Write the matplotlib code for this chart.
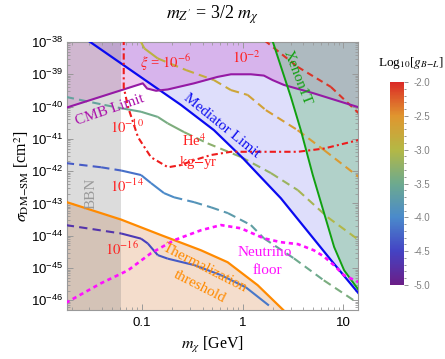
import numpy as np
import matplotlib.pyplot as plt
from matplotlib.collections import LineCollection
from matplotlib.colors import LinearSegmentedColormap, Normalize
from matplotlib.cm import ScalarMappable
from matplotlib import ticker

plt.rcParams['font.family'] = ['Liberation Sans', 'DejaVu Sans']
plt.rcParams['mathtext.fontset'] = 'stix'

# axis ranges (mass in GeV, cross section as log10 of sigma/cm^2)
xmin, xmax = 0.018, 14.0
ymin, ymax = -46.3, -38.0
bbn_m = 0.062
xticks = [0.1, 1, 10]
xticklabels = ['0.1', '1', '10']

# mediator limit
med_m = [0.0290, 0.2443, 0.5188, 1.007, 1.521, 2.399, 7.568, 14.5]
med_s = [-37.95, -39.95, -40.73, -41.60, -42.19, -42.84, -44.76, -45.82]

# CMB limit
cmb_m = [0.0175, 0.1019, 0.1125, 0.1380, 0.1803, 0.3289, 0.5649, 0.7656,
         1.208, 1.626, 1.986, 2.570, 5.093, 9.441, 14.5]
cmb_s = [-40.04, -39.28, -39.44, -39.51, -39.47, -39.28, -39.08, -39.00,
         -39.00, -39.04, -39.18, -39.33, -39.59, -39.85, -40.03]

# Xenon1T
xen_m = [1.95, 3.013, 3.784, 4.977, 6.457, 8.110, 10.19, 14.5]
xen_s = [-37.90, -39.70, -40.73, -42.12, -43.31, -44.35, -45.07, -45.72]

# thermalization threshold
th_m = [0.0175, 0.0621, 0.1545, 0.3855, 0.7096, 1.409, 2.95]
th_s = [-42.95, -43.50, -43.98, -44.45, -44.82, -45.53, -46.50]

# neutrino floor
nu_m = [0.0175, 0.0393, 0.0728, 0.1230, 0.2080, 0.3855, 0.6095, 0.9616,
        1.626, 2.399, 3.540, 5.093, 6.397, 8.054, 10.12, 14.5]
nu_s = [-46.08, -45.47, -45.07, -44.54, -44.14, -43.83, -43.67, -43.77,
        -44.08, -44.20, -44.26, -44.45, -44.64, -44.91, -45.22, -45.45]

# He4 kg-yr
he_m = [0.0659, 0.0659, 0.0728, 0.0914, 0.1230, 0.1816, 0.2443, 0.3289,
        0.4853, 0.7656, 3.540, 6.412, 14.5]
he_s = [-37.90, -39.40, -40.02, -40.95, -41.57, -41.88, -41.81, -41.66,
        -41.50, -41.40, -41.40, -41.30, -41.03]

# xi contours: mass, log10 sigma, log10 g
xi16_m = [0.0175, 0.0621, 0.0979, 0.1143, 0.1435, 0.1803, 0.3311, 0.6095, 1.079, 1.824]
xi16_s = [-43.67, -43.93, -44.09, -44.24, -44.60, -44.71, -44.91, -45.22, -45.60, -46.16]
xi16_g = [-4.75, -4.65, -4.6, -4.5, -4.4, -4.35, -4.3, -4.2, -4.15, -4.1]

xi14_m = [0.0175, 0.0393, 0.0621, 0.0979, 0.1230, 0.1656, 0.2084, 0.3289,
          0.4853, 0.7145, 1.208, 1.626, 3.228, 6.397, 12.71]
xi14_s = [-41.75, -41.88, -41.98, -42.12, -42.37, -42.68, -42.81, -42.96,
          -43.12, -43.30, -43.67, -44.08, -44.70, -45.38, -46.00]
xi14_g = [-4.35, -4.3, -4.25, -4.1, -4.05, -4.0, -3.95, -3.85,
          -3.8, -3.75, -3.7, -3.65, -3.55, -3.45, -3.35]

xi10_m = [0.0175, 0.0424, 0.0621, 0.0979, 0.1435, 0.1803, 0.2618, 0.4498,
          0.9616, 1.910, 3.540, 7.015, 14.5]
xi10_s = [-39.70, -39.95, -40.05, -40.16, -40.32, -40.52, -40.79, -41.14,
          -41.56, -42.06, -42.59, -43.43, -44.15]
xi10_g = [-3.65, -3.6, -3.55, -3.5, -3.45, -3.4, -3.35, -3.3,
          -3.25, -3.2, -3.15, -3.05, -3.0]

xi6_m = [0.0960, 0.1057, 0.1435, 0.2742, 0.5188, 0.7656, 1.122, 1.702, 3.516, 6.457, 14.5]
xi6_s = [-37.95, -38.20, -38.51, -38.87, -39.18, -39.49, -39.64, -40.11, -40.73, -41.35, -42.20]
xi6_g = [-2.95, -2.93, -2.9, -2.85, -2.8, -2.75, -2.7, -2.65, -2.6, -2.57, -2.55]

xi2_m = [1.65, 3.516, 7.516, 14.5]
xi2_s = [-37.95, -38.77, -39.39, -40.23]
xi2_g = [-2.05, -2.05, -2.05, -2.05]

rainbow = LinearSegmentedColormap.from_list(
    'rb', ['#6B1E87', '#4443C4', '#4A8ACB', '#6DAA8E', '#B4B845', '#E0962F', '#DB2A26'])
norm = Normalize(-5, -2)

fig = plt.figure(figsize=(4.45, 3.59), dpi=100)
ax = fig.add_axes([67/445, 49/359, 291/445, 268/359])
ax.set_xscale('log')
ax.set_yscale('log')

def p(v):
    return 10**np.asarray(v)

# shaded regions
ax.fill_between(med_m, p(med_s), 1e-36, color=(100/255, 100/255, 240/255), alpha=0.21, lw=0, zorder=0.5)
ax.fill_between(th_m, 1e-48, p(th_s), color=(215/255, 123/255, 55/255), alpha=0.25, lw=0, zorder=0.6)
ax.fill_between(cmb_m, p(cmb_s), 1e-36, color=(200/255, 80/255, 200/255), alpha=0.29, lw=0, zorder=0.7)
ax.fill_betweenx(p(xen_s), xen_m, 100, color=(124/255, 195/255, 140/255), alpha=0.45, lw=0, zorder=0.8)
ax.axvspan(0.005, bbn_m, color='#808080', alpha=0.27, lw=0, zorder=0.9)

# limit lines
ax.plot(med_m, p(med_s), color='#0A0AF0', lw=1.6, zorder=5)
ax.plot(cmb_m, p(cmb_s), color='#951AA5', lw=1.5, zorder=5)
ax.plot(xen_m, p(xen_s), color='#10A010', lw=1.4, zorder=5)
ax.plot(th_m, p(th_s), color='#FF8A00', lw=1.6, zorder=5)
ax.plot(nu_m, p(nu_s), color='#FF10FF', lw=1.9, ls=(0, (1.6, 1.4)), zorder=6)
ax.plot(he_m, p(he_s), color='#EE1C1C', lw=1.5, ls=(0, (3, 1.5, 1, 1.5)), zorder=6)


def draw_xi(m, s, g, lo, hi, dash=(0, (4, 2.5))):
    m = np.asarray(m)
    y = p(s)
    g = np.asarray(g)
    segs, cols, styles = [], [], []
    for i in range(len(m) - 1):
        segs.append([(m[i], y[i]), (m[i + 1], y[i + 1])])
        cols.append(rainbow(norm(0.5 * (g[i] + g[i + 1]))))
        mid = np.sqrt(m[i] * m[i + 1])
        styles.append('solid' if lo <= mid <= hi else dash)
    lc = LineCollection(segs, colors=cols, linestyles=styles, linewidths=1.5, zorder=4)
    ax.add_collection(lc)


draw_xi(xi16_m, xi16_s, xi16_g, 0.062, 100)
draw_xi(xi14_m, xi14_s, xi14_g, 0.062, 0.21)
draw_xi(xi10_m, xi10_s, xi10_g, 0.062, 0.26)
draw_xi(xi6_m, xi6_s, xi6_g, 0.0, 0.13)
draw_xi(xi2_m, xi2_s, xi2_g, 0.0, 0.0, dash=(0, (3.2, 2.2)))

ax.set_xlim(xmin, xmax)
ax.set_ylim(p(ymin), p(ymax))

ax.yaxis.set_major_locator(ticker.LogLocator(base=10, numticks=20))
ax.yaxis.set_minor_locator(ticker.LogLocator(base=10, subs=np.arange(2, 10), numticks=20))
ax.yaxis.set_minor_formatter(ticker.NullFormatter())
ax.xaxis.set_major_locator(ticker.FixedLocator(xticks))
ax.xaxis.set_major_formatter(ticker.FixedFormatter(xticklabels))
ax.xaxis.set_minor_locator(ticker.LogLocator(base=10, subs=np.arange(2, 10), numticks=20))
ax.xaxis.set_minor_formatter(ticker.NullFormatter())
ax.tick_params(which='both', direction='in', top=True, right=True, color='#999999', labelsize=9.5)
ax.tick_params(axis='y', pad=3)
ax.tick_params(axis='x', pad=5)
ax.tick_params(which='major', length=4, width=0.7)
ax.tick_params(which='minor', length=2.2, width=0.6)
for sp in ax.spines.values():
    sp.set_color('#999999')
    sp.set_linewidth(0.8)

serif = 'Liberation Serif'
ax.set_xlabel(r'$m_\chi$ [GeV]', family=serif, fontsize=11.5)
ax.xaxis.set_label_coords(0.5, -0.095)
ax.set_ylabel(r'$\sigma_{\mathrm{DM{-}SM}}$ [cm$^2$]', family=serif, fontsize=11.5)
ax.yaxis.set_label_coords(-0.125, 0.5)
fig.text(213/445, 1 - 15/359, r"$m_{Z^{\prime}}$ = 3/2 $m_\chi$", family=serif, fontsize=13,
         ha='center', va='center')

# in-plot labels
red = '#FF2020'
def lab(x, y, s, c, size=10.5, rot=0):
    ax.text(x, y, s, color=c, fontsize=size, rotation=rot, family=serif,
            ha='center', va='center', transform=ax.transAxes, zorder=8,
            rotation_mode='anchor')

lab(0.337, 0.922, r'$\xi$ = $10^{-6}$', red)
lab(0.615, 0.94, r'$10^{-2}$', red)
lab(0.206, 0.683, r'$10^{-10}$', red)
lab(0.206, 0.463, r'$10^{-14}$', red)
lab(0.189, 0.228, r'$10^{-16}$', red)
lab(0.436, 0.631, r'He$^4$', red)
lab(0.450, 0.549, r'kg$-$yr', red)
lab(0.148, 0.746, 'CMB Limit', '#AA10AA', 11, 19)
lab(0.533, 0.687, 'Mediator Limit', '#1010F0', 11, -39)
lab(0.790, 0.868, 'Xenon1T', '#10A010', 11, -69)
lab(0.082, 0.437, 'BBN', '#999999', 11, 90)
lab(0.474, 0.157, 'Thermalization', '#FF8A00', 11, -27)
lab(0.457, 0.088, 'threshold', '#FF8A00', 11, -27)
lab(0.680, 0.216, 'Neutrino', '#FF10FF', 11)
lab(0.687, 0.146, 'floor', '#FF10FF', 11)

# colorbar
cax = fig.add_axes([390/445, 74/359, 14/445, 203/359])
cb = fig.colorbar(ScalarMappable(norm=norm, cmap=rainbow), cax=cax)
cb.outline.set_visible(False)
cb.set_ticks(np.arange(-5, -1.9, 0.5))
cb.ax.yaxis.set_major_formatter(ticker.FormatStrFormatter('%.1f'))
cb.ax.yaxis.set_minor_locator(ticker.MultipleLocator(0.1))
cb.ax.tick_params(which='both', colors='#808080', labelsize=7, width=0.6, pad=4)
cb.ax.tick_params(which='major', length=3)
cb.ax.tick_params(which='minor', length=1.5)
fig.text(411/445, 1 - 63/359, r'Log$_{10}$[$g_{B{-}L}$]', family=serif, fontsize=9.5,
         ha='center', va='center')

fig.savefig('out.png', dpi=100)
